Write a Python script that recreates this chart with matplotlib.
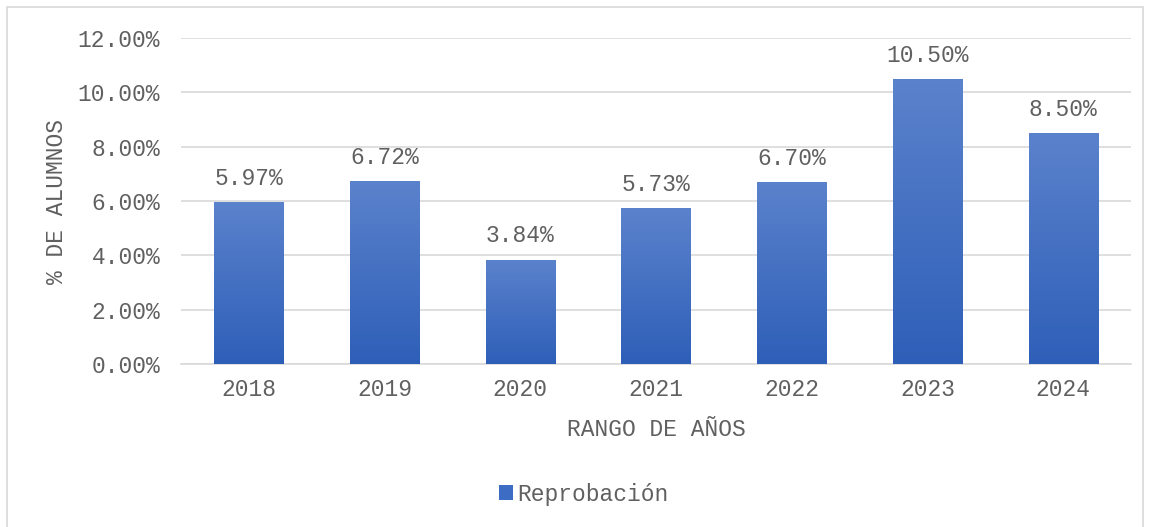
"""Reprobación por año — bar chart with gradient fill."""

import matplotlib

matplotlib.use("Agg")
import matplotlib.pyplot as plt  # noqa: E402
import numpy as np  # noqa: E402
from matplotlib.colors import LinearSegmentedColormap  # noqa: E402
from matplotlib.patches import Rectangle  # noqa: E402
from matplotlib.ticker import FuncFormatter  # noqa: E402

years = ["2018", "2019", "2020", "2021", "2022", "2023", "2024"]
reprobacion = [5.97, 6.72, 3.84, 5.73, 6.70, 10.50, 8.50]
y_ticks = [0, 2, 4, 6, 8, 10, 12]

TEXT = "#606060"
GRID = "#d9d9d9"
TOP_BLUE = "#5b82cc"
BOTTOM_BLUE = "#2e5fb8"
FS = 16.5

plt.rcParams["font.family"] = "Liberation Mono"

fig = plt.figure(figsize=(11.51, 5.27), dpi=100)
ax = fig.add_axes([181 / 1151, 1 - 364 / 527, 950 / 1151, 326 / 527])

# outer chart border
fig.patches.append(Rectangle((7 / 1151, -0.01), 1136 / 1151, 1 - 7 / 527 + 0.01,
                             transform=fig.transFigure, fill=False,
                             edgecolor=GRID, linewidth=1.2))

x = np.arange(len(years))
bars = ax.bar(x, reprobacion, width=0.51, facecolor="none", edgecolor="none",
              zorder=3, label="Reprobación")

cmap = LinearSegmentedColormap.from_list("grad", [BOTTOM_BLUE, TOP_BLUE])
grad = np.linspace(0, 1, 256).reshape(-1, 1)
for bar in bars:
    x0, y0 = bar.get_x(), bar.get_y()
    w, h = bar.get_width(), bar.get_height()
    im = ax.imshow(grad, cmap=cmap, origin="lower", aspect="auto",
                   extent=(x0, x0 + w, y0, y0 + h), zorder=3)
    im.set_clip_path(bar)

for xi, v in zip(x, reprobacion):
    ax.text(xi, v + 0.45, f"{v:.2f}%", ha="center", va="bottom",
            fontsize=FS, color=TEXT)

ax.set_xlim(-0.5, len(years) - 0.5)
ax.set_ylim(0, 12)
ax.set_yticks(y_ticks)
ax.yaxis.set_major_formatter(FuncFormatter(lambda v, _: f"{v:.2f}%"))
ax.set_xticks(x)
ax.set_xticklabels(years)
ax.tick_params(axis="both", length=0, labelsize=FS, labelcolor=TEXT)
ax.tick_params(axis="y", pad=15)
ax.tick_params(axis="x", pad=10)
ax.grid(axis="y", color=GRID, linewidth=1.2, zorder=0)
for side in ("top", "right", "left"):
    ax.spines[side].set_visible(False)
ax.spines["bottom"].set_color(GRID)
ax.spines["bottom"].set_linewidth(1.2)

ax.set_xlabel("RANGO DE AÑOS", fontsize=FS, color=TEXT, labelpad=12)
ax.set_ylabel("% DE ALUMNOS", fontsize=FS, color=TEXT, labelpad=7)

handle = Rectangle((0, 0), 1, 1, facecolor="#3d6cc4")
fig.legend([handle], ["Reprobación"], loc="center", bbox_to_anchor=(0.507, 1 - 494 / 527),
           frameon=False, fontsize=FS, handlelength=0.6, handleheight=0.6,
           handletextpad=0.2, labelcolor=TEXT)

fig.savefig("out.png", dpi=100)
